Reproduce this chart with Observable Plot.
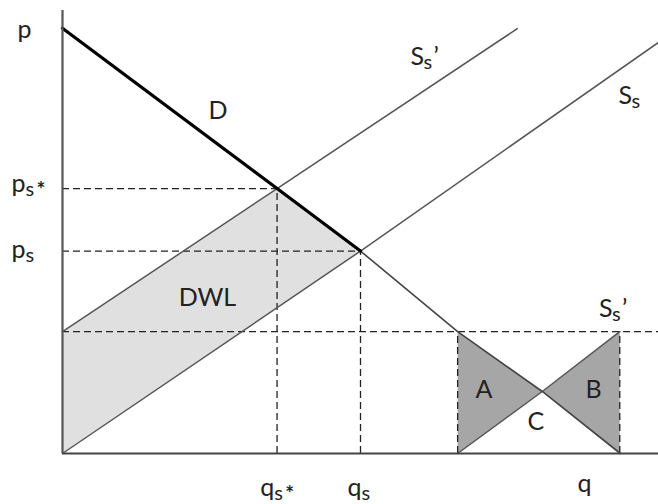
<!DOCTYPE html>
<html>
<head>
<meta charset="utf-8">
<script src="https://cdn.jsdelivr.net/npm/d3@7"></script>
<script src="https://cdn.jsdelivr.net/npm/@observablehq/plot@0.6"></script>
<style>
  html, body { margin: 0; padding: 0; background: #fff; }
  #chart svg { display: block; }
</style>
</head>
<body>
<div id="chart"></div>
<script>
// ---- values (abstract units, q: 0–100, p: 0–100) ----
const qStar = 36, qS = 50, qA = 66.3, qC = 80.5, qB = 93.5, qD0 = 93.6, qSsEnd = 100, qSpEnd = 76.3;
const pStar = 59.8, pS = 45.7, pFloor = 27.5, pC = 14, pD0 = 96, pSsEnd = 92.8, pSpEnd = 95.9;

const demandThick   = [[0, pD0], [qStar, pStar], [qS, pS]];
const demandThin    = [[qS, pS], [qA, pFloor], [qC, pC], [qD0, 0]];
const supplyS       = [[0, 0], [qS, pS], [qSsEnd, pSsEnd]];
const supplyShifted = [[0, pFloor], [qStar, pStar], [qSpEnd, pSpEnd]];
const supplyLow     = [[qA, 0], [qC, pC], [qB, pFloor]];
const dwlArea       = [[0, pFloor], [qStar, pStar], [qS, pS], [0, 0]];
const triangleA     = [[qA, pFloor], [qA, 0], [qC, pC]];
const triangleB     = [[qC, pC], [qB, pFloor], [qB, 0]];

const hDashes = [[pFloor, 0, 100], [pStar, 0, qStar], [pS, 0, qS]];
const vDashes = [[qStar, 0, pStar], [qS, 0, pS], [qA, 0, pFloor], [qB, 0, pFloor]];

// labels: text, (mark), anchor (start x, baseline y)
const plainLabels = [["p", -7.55, 93.9], ["D", 24.5, 75.4], ["DWL", 19.5, 33.4],
                     ["A", 69.3, 12.6], ["B", 87.75, 12.6], ["C", 78.0, 5.2], ["q", 86.4, -8.6]];
const pqLabels = [["p", "*", -8.56, 59.1], ["p", "", -8.56, 44.2], ["q", "*", 33.2, -9.5], ["q", "", 47.8, -9.5]];
const sLabels  = [["’", 58.4, 87.6], ["", 93.3, 78.8], ["’", 90.0, 30.7]];

const X = d => d[0], Y = d => d[1];
const ink = "#222";
const font = "Lato, 'Open Sans', sans-serif";

const chart = Plot.plot({
  width: 658,
  height: 504,
  marginLeft: 62,
  marginRight: 0,
  marginTop: 10,
  marginBottom: 51,
  x: { domain: [0, 100], axis: null },
  y: { domain: [0, 100], axis: null },
  style: { fontFamily: font, background: "#fff", color: ink },
  marks: [
    Plot.line(dwlArea,   { x: X, y: Y, fill: "#e0e0e0", stroke: "none" }),
    Plot.line(triangleA, { x: X, y: Y, fill: "#a6a6a6", stroke: "none" }),
    Plot.line(triangleB, { x: X, y: Y, fill: "#a6a6a6", stroke: "none" }),

    Plot.ruleY(hDashes, { y: d => d[0], x1: d => d[1], x2: d => d[2], stroke: "#222", strokeWidth: 1.3, strokeDasharray: "7,4" }),
    Plot.ruleX(vDashes, { x: d => d[0], y1: d => d[1], y2: d => d[2], stroke: "#222", strokeWidth: 1.3, strokeDasharray: "7,4" }),

    Plot.line(supplyS,       { x: X, y: Y, stroke: "#555", strokeWidth: 1.5 }),
    Plot.line(supplyShifted, { x: X, y: Y, stroke: "#555", strokeWidth: 1.5 }),
    Plot.line(supplyLow,     { x: X, y: Y, stroke: "#555", strokeWidth: 1.5 }),
    Plot.line(demandThin,    { x: X, y: Y, stroke: "#444", strokeWidth: 1.6 }),
    Plot.line(demandThick,   { x: X, y: Y, stroke: "#000", strokeWidth: 3.2 }),

    Plot.ruleX([0], { y1: 0, y2: 100, stroke: "#555", strokeWidth: 2.2 }),
    Plot.ruleY([0], { x1: 0, x2: 100, stroke: "#444", strokeWidth: 2 }),

    Plot.text(plainLabels, { x: d => d[1], y: d => d[2], text: d => d[0], textAnchor: "start", lineAnchor: "bottom", fontSize: 25, fill: ink }),

    Plot.text(pqLabels, { x: d => d[2], y: d => d[3], text: d => d[0], textAnchor: "start", lineAnchor: "bottom", fontSize: 25, fill: ink }),
    Plot.text(pqLabels, { x: d => d[2], y: d => d[3], text: () => "s", dx: 14, dy: 4, textAnchor: "start", lineAnchor: "bottom", fontSize: 20, fill: ink }),
    Plot.text(pqLabels, { x: d => d[2], y: d => d[3], text: d => d[1], dx: 25, dy: 5, textAnchor: "start", lineAnchor: "bottom", fontSize: 21, fontWeight: "bold", fill: ink }),

    Plot.text(sLabels, { x: d => d[1], y: d => d[2], text: () => "S", textAnchor: "start", lineAnchor: "bottom", fontSize: 25, fill: ink }),
    Plot.text(sLabels, { x: d => d[1], y: d => d[2], text: () => "s", dx: 13, dy: 4, textAnchor: "start", lineAnchor: "bottom", fontSize: 20, fill: ink }),
    Plot.text(sLabels, { x: d => d[1], y: d => d[2], text: d => d[0], dx: 23, textAnchor: "start", lineAnchor: "bottom", fontSize: 25, fill: ink })
  ]
});

document.getElementById("chart").appendChild(chart);
</script>
</body>
</html>
